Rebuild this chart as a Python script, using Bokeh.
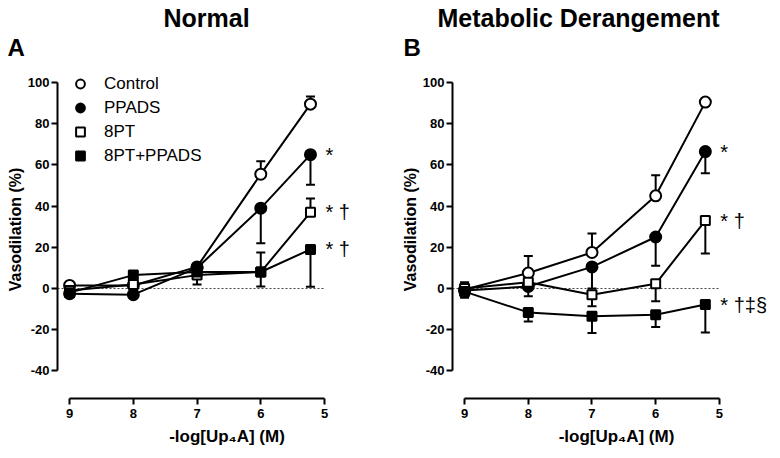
from bokeh.plotting import figure
from bokeh.layouts import row
from bokeh.models import Range1d, Label, Legend, LegendItem, FixedTicker, Title
from bokeh.embed import file_html
from bokeh.resources import INLINE

# ---------------- data ----------------
x_vals = [9, 8, 7, 6, 5.22]
x_ticks = [9, 8, 7, 6, 5]
x_tick_labels = ["9", "8", "7", "6", "5"]
y_ticks = [-40, -20, 0, 20, 40, 60, 80, 100]
y_tick_labels = ["-40", "-20", "0", "20", "40", "60", "80", "100"]
series_names = ["Control", "PPADS", "8PT", "8PT+PPADS"]

# Panel A (Normal): means and error-bar end points
a_control = [1.5, 1.5, 10.5, 55.5, 89.5]
a_control_err = [1.5, 1.5, 10.5, 61.8, 93.2]
a_ppads = [-2.5, -3.0, 10.0, 39.0, 65.0]
a_ppads_err = [-2.5, -3.0, 10.0, 22.0, 50.4]
a_8pt = [-1.0, 2.0, 6.5, 8.0, 37.0]
a_8pt_err = [-1.0, 2.0, 2.0, 17.5, 43.7]
a_combo = [-2.0, 6.5, 8.0, 8.0, 19.0]
a_combo_err = [-2.0, 6.5, 8.0, 1.0, 0.8]
a_annot = ["*", "* \u2020", "* \u2020"]          # for PPADS, 8PT, 8PT+PPADS

# Panel B (Metabolic Derangement)
b_control = [-0.5, 7.5, 17.5, 45.0, 90.5]
b_control_err = [3.0, 15.8, 26.7, 55.0, 90.5]
b_ppads = [-1.0, 1.0, 10.5, 25.0, 66.5]
b_ppads_err = [-1.0, -3.7, 0.0, 11.0, 56.0]
b_8pt = [0.0, 3.0, -3.0, 2.3, 33.0]
b_8pt_err = [0.0, 3.0, -8.6, -6.2, 17.0]
b_combo = [-1.5, -11.6, -13.5, -12.7, -7.8]
b_combo_err = [-4.5, -16.0, -21.6, -18.7, -21.3]
b_annot = ["*", "* \u2020", "* \u2020\u2021\u00a7"]

FONT = "Liberation Sans"
H = 458


def make_panel(title, letter, data, annots, width, left, x_end, show_legend,
               title_offset, letter_offset):
    p = figure(width=width, height=H,
               x_range=Range1d(9.19, x_end), y_range=Range1d(-53.4, 110.7),
               output_backend="svg", toolbar_location=None,
               min_border_left=left, min_border_right=0,
               min_border_top=60, min_border_bottom=60)
    p.outline_line_color = None
    p.xgrid.visible = False
    p.ygrid.visible = False
    p.background_fill_color = "white"

    # panel title on top, panel letter just above the frame
    p.title.text = title
    p.title.align = "left"
    p.title.offset = title_offset
    p.title.standoff = 0
    p.title.text_font = FONT
    p.title.text_font_style = "bold"
    p.title.text_font_size = "25px"
    p.title.text_color = "black"
    p.add_layout(Title(text=letter, align="left", offset=letter_offset, standoff=0,
                       text_font=FONT, text_font_style="bold", text_font_size="24px",
                       text_color="black"), "above")

    for ax, ticks, labels in ((p.xaxis[0], x_ticks, x_tick_labels),
                              (p.yaxis[0], y_ticks, y_tick_labels)):
        ax.ticker = FixedTicker(ticks=ticks)
        ax.major_label_overrides = {t: s for t, s in zip(ticks, labels)}
        ax.bounds = (min(ticks), max(ticks))
        ax.axis_line_width = 2
        ax.major_tick_line_width = 2
        ax.major_tick_out = 6
        ax.major_tick_in = 0
        ax.minor_tick_line_color = None
        ax.major_label_text_font = FONT
        ax.major_label_text_font_style = "bold"
        ax.major_label_text_font_size = "13px"
        ax.major_label_text_color = "black"
        ax.axis_label_text_font = FONT
        ax.axis_label_text_font_style = "bold"
        ax.axis_label_text_font_size = "16px"
        ax.axis_label_text_color = "black"
    p.xaxis.axis_label = "-log[Up\u2084A] (M)"
    p.yaxis.axis_label = "Vasodilation (%)"
    p.xaxis.major_label_standoff = 4
    p.xaxis.axis_label_standoff = 6
    p.xaxis.axis_label_text_font_size = "17px"
    p.yaxis.major_label_standoff = 2
    p.yaxis.axis_label_standoff = 1

    # dotted zero reference line
    p.line(x=[p.x_range.start, min(x_ticks)], y=[0, 0], line_color="#444444",
           line_width=1, line_dash="2 2")

    styles = [
        dict(marker="circle", size=11, fill_color="white"),
        dict(marker="circle", size=11, fill_color="black"),
        dict(marker="square", size=9, fill_color="white"),
        dict(marker="square", size=9, fill_color="black"),
    ]
    items = []
    for (mean, err), st, name in zip(data, styles, series_names):
        p.line(x_vals, mean, line_color="black", line_width=2)
        p.segment(x0=x_vals, y0=mean, x1=x_vals, y1=err, line_color="black", line_width=2)
        ex = [xv for xv, m, e in zip(x_vals, mean, err) if e != m]
        ey = [e for m, e in zip(mean, err) if e != m]
        if ex:
            p.scatter(ex, ey, marker="dash", size=9, line_color="black", line_width=2)
    for (mean, err), st, name in zip(data, styles, series_names):
        r = p.scatter(x_vals, mean, marker=st["marker"], size=st["size"],
                      fill_color=st["fill_color"], line_color="black", line_width=2)
        items.append(LegendItem(label=name, renderers=[r]))

    for (mean, err), txt in zip(data[1:], annots):
        p.add_layout(Label(x=x_vals[-1], y=mean[-1], x_offset=15, text=txt,
                           text_baseline="middle", text_font=FONT,
                           text_font_size="20px", text_color="black"))

    if show_legend:
        leg = Legend(items=items, location="top_left", margin=12, padding=0,
                     glyph_width=22, glyph_height=23, label_height=23, spacing=1,
                     label_standoff=13, label_text_font=FONT,
                     label_text_font_size="17px", label_text_color="black",
                     border_line_color=None, background_fill_alpha=0)
        p.add_layout(leg)
    return p


pa = make_panel("Normal", "A",
                [(a_control, a_control_err), (a_ppads, a_ppads_err),
                 (a_8pt, a_8pt_err), (a_combo, a_combo_err)],
                a_annot, 396, 57, 3.87, True, 106, -50)
pb = make_panel("Metabolic Derangement", "B",
                [(b_control, b_control_err), (b_ppads, b_ppads_err),
                 (b_8pt, b_8pt_err), (b_combo, b_combo_err)],
                b_annot, 384, 56, 4.04, False, -15, -49)

layout = row(pa, pb, spacing=0)
open("out.html", "w").write(file_html(layout, INLINE))
